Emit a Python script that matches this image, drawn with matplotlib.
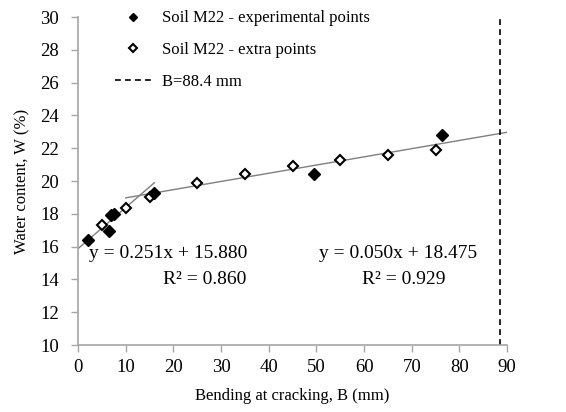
"""Water content vs bending at cracking, soil M22."""

import matplotlib

matplotlib.use("Agg")
import matplotlib.pyplot as plt
import numpy as np

# experimental points (filled diamonds)
exp_b = [2.0, 6.5, 7.0, 7.5, 16.0, 49.5, 76.3]
exp_w = [16.4, 16.95, 17.9, 18.0, 19.3, 20.4, 22.8]

# extra points (open diamonds)
extra_b = [5.0, 10.0, 15.0, 25.0, 35.0, 45.0, 55.0, 65.0, 75.0]
extra_w = [17.3, 18.35, 19.0, 19.85, 20.45, 20.9, 21.3, 21.6, 21.9]

# trendlines: slope, intercept, x-range
fit1 = (0.251, 15.880, (0.0, 16.0))
fit2 = (0.050, 18.475, (10.0, 90.0))
b_crit = 88.4

plt.rcParams["font.family"] = ["Liberation Serif", "DejaVu Serif"]
plt.rcParams["font.size"] = 12

fig = plt.figure(figsize=(5.66, 4.12), dpi=100)
ax = fig.add_axes([0.138, 0.1626, 0.758, 0.796])

axis_grey = "#a6a6a6"

# trendlines
for slope, icpt, (x0, x1) in (fit1, fit2):
    xs = np.array([x0, x1])
    ax.plot(xs, slope * xs + icpt, color="#7f7f7f", linewidth=1.0, zorder=2)

ax.plot(exp_b, exp_w, "D", color="black", markersize=6,
        label="Soil M22 - experimental points", zorder=4)
ax.plot(extra_b, extra_w, "D", markerfacecolor="white", markeredgecolor="black",
        markeredgewidth=1.5, markersize=5.5, label="Soil M22 - extra points", zorder=3)
ax.plot([b_crit, b_crit], [10, 30], color="black", linestyle=(0, (3.5, 2.5)),
        linewidth=1.2, label="B=88.4 mm", zorder=2)

ax.text(18.9, 15.6, "y = 0.251x + 15.880", ha="center", va="center", fontsize=14)
ax.text(26.6, 14.0, "R² = 0.860", ha="center", va="center", fontsize=14)
ax.text(67.1, 15.6, "y = 0.050x + 18.475", ha="center", va="center", fontsize=14)
ax.text(68.3, 14.0, "R² = 0.929", ha="center", va="center", fontsize=14)

ax.set_xlim(0, 90)
ax.set_ylim(10, 30)
ax.set_xticks(np.arange(0, 91, 10))
ax.set_yticks(np.arange(10, 31, 2))
ax.set_xlabel("Bending at cracking, B (mm)", labelpad=9)
ax.set_ylabel("Water content, W (%)", labelpad=7)

for side in ("top", "right"):
    ax.spines[side].set_visible(False)
for side in ("left", "bottom"):
    ax.spines[side].set_color(axis_grey)
    ax.spines[side].set_linewidth(1.2)
ax.tick_params(direction="out", length=5, width=1.0, color=axis_grey,
               labelsize=13.5)
ax.tick_params(axis="y", pad=9)
ax.tick_params(axis="x", pad=5)

leg = ax.legend(loc="upper left", bbox_to_anchor=(0.086, 1.02), frameon=False,
                handlelength=2.2, handletextpad=0.6, labelspacing=0.95,
                borderaxespad=0, borderpad=0)
for h in leg.legend_handles[:2]:
    h.set_markersize(4.5)

fig.savefig("out.png", dpi=100)
